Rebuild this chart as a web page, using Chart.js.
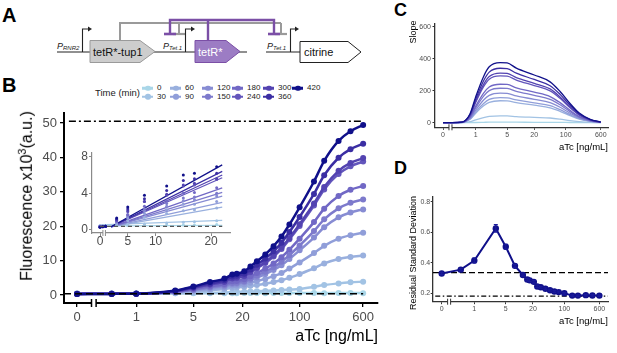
<!DOCTYPE html>
<html lang="en">
<head>
<meta charset="UTF-8">
<title>aTc dose response</title>
<script src="https://cdn.jsdelivr.net/npm/chart.js"></script>
<style>
  body { margin: 0; width: 617px; height: 353px; position: relative; overflow: hidden; background: #fff;
         font-family: 'Liberation Sans', Arial, sans-serif; color: #000; }
  canvas, svg, .t { position: absolute; }
  .t { line-height: 1; white-space: nowrap; }
  .panel { font-weight: bold; }
  .rot { transform: translate(-50%, -50%) rotate(-90deg); }
  .xt { transform: translateY(-50%); }
  .key { position: absolute; height: 2.5px; width: 11px; transform: translateY(-50%); }
  .key i { position: absolute; left: 3px; top: -1.5px; width: 5.5px; height: 5.5px; border-radius: 50%; background: inherit; }
  .lab { position: absolute; font-size: 8px; line-height: 1; transform: translateY(-50%); color: #222; }
</style>
</head>
<body>

<!-- panel A: construct diagram -->
<svg style="left:0;top:0" width="400" height="76">
  <line x1="57" y1="52" x2="247" y2="52" stroke="#222" stroke-width="1.2"/>
  <line x1="266" y1="52" x2="300" y2="52" stroke="#222" stroke-width="1.2"/>
  <polyline points="120,40 120,23 281,23" fill="none" stroke="#9a9a9a" stroke-width="2"/>
  <polyline points="179,23 179,34" fill="none" stroke="#9a9a9a" stroke-width="2"/>
  <line x1="173" y1="34" x2="185" y2="34" stroke="#9a9a9a" stroke-width="2.2"/>
  <polyline points="281,23 281,34" fill="none" stroke="#9a9a9a" stroke-width="2"/>
  <line x1="275" y1="34" x2="287" y2="34" stroke="#9a9a9a" stroke-width="2.2"/>
  <polyline points="170,34 170,20 274,20 274,34" fill="none" stroke="#7b4fa6" stroke-width="2.4"/>
  <line x1="208" y1="20" x2="208" y2="41" stroke="#7b4fa6" stroke-width="2.4"/>
  <line x1="164" y1="34" x2="176" y2="34" stroke="#7b4fa6" stroke-width="2.6"/>
  <line x1="268" y1="34" x2="280" y2="34" stroke="#7b4fa6" stroke-width="2.6"/>
  <path d="M82.5,52 V29 H89" fill="none" stroke="#222" stroke-width="1.1"/>
  <polygon points="88,26.5 92,29 88,31.5" fill="#222"/>
  <path d="M185.5,52 V29 H192" fill="none" stroke="#222" stroke-width="1.1"/>
  <polygon points="191,26.5 195,29 191,31.5" fill="#222"/>
  <path d="M290.5,52 V29 H296" fill="none" stroke="#222" stroke-width="1.1"/>
  <polygon points="295,26.5 299,29 295,31.5" fill="#222"/>
  <polygon points="90,40.5 140,40.5 155,51.5 140,62.5 90,62.5" fill="#cdcdcd" stroke="#9a9a9a" stroke-width="1"/>
  <polygon points="195,40.5 226,40.5 240,51.5 226,62.5 195,62.5" fill="#9c7cc4" stroke="#7b4fa6" stroke-width="1"/>
  <polygon points="300,41.5 348,41.5 361,52 348,62.5 300,62.5" fill="#fff" stroke="#222" stroke-width="1"/>
  <text x="93" y="55.5" font-size="11" fill="#111">tetR*-tup1</text>
  <text x="198" y="55.5" font-size="11" fill="#fff">tetR*</text>
  <text x="304" y="55.5" font-size="11" fill="#111">citrine</text>
  <text x="57" y="49" font-size="9" font-style="italic" fill="#222">P<tspan font-size="6" dy="1">RNR2</tspan></text>
  <text x="163" y="49" font-size="9" font-style="italic" fill="#222">P<tspan font-size="6" dy="1">Tet.1</tspan></text>
  <text x="267" y="49" font-size="9" font-style="italic" fill="#222">P<tspan font-size="6" dy="1">Tet.1</tspan></text>
</svg>

<div class="t panel" style="left:2px;top:4.5px;font-size:20px">A</div>
<div class="t panel" style="left:2px;top:74.5px;font-size:20px">B</div>
<div class="t panel" style="left:394px;top:0.5px;font-size:18px">C</div>
<div class="t panel" style="left:394px;top:158.7px;font-size:18px">D</div>

<div class="t xt" style="left:95px;top:93px;font-size:9.5px;color:#222">Time (min)</div>
<div id="legend"></div>

<canvas id="chartB" width="400" height="253" style="left:0;top:100px"></canvas>
<canvas id="chartInset" width="170" height="110" style="left:70px;top:140px"></canvas>
<canvas id="chartC" width="212" height="145" style="left:405px;top:10px"></canvas>
<canvas id="chartD" width="212" height="145" style="left:405px;top:185px"></canvas>

<div class="t rot" style="left:26px;top:196px;font-size:16px">Fluorescence x10<sup style="font-size:11px">3</sup>(a.u.)</div>
<div class="t xt" style="right:239px;top:336px;font-size:16px">aTc [ng/mL]</div>
<div class="t rot" style="left:413px;top:32px;font-size:9px">Slope</div>
<div class="t xt" style="right:9px;top:146.7px;font-size:9.5px">aTc [ng/mL]</div>
<div class="t rot" style="left:413px;top:253px;font-size:9px">Residual Standard Deviation</div>
<div class="t xt" style="right:9px;top:320.7px;font-size:9.5px">aTc [ng/mL]</div>

<script>
// ---- data ----
const timeLabels = ['0', '30', '60', '90', '120', '150', '180', '240', '300', '360', '420'];
const seriesColors = ['#a9d6e8', '#a2c3e4', '#99b0de', '#909ed9', '#878cd3', '#7d7acc',
                      '#7168c5', '#6356bc', '#5343b1', '#3b2ea3', '#10108a'];

// aTc concentrations (ng/mL)
const aTc = [0, 0.5, 1, 3, 5, 8, 12, 15, 17, 21, 25, 30, 38, 48, 60, 75, 100, 150, 200, 300, 420, 600];

// fluorescence x10^3 (a.u.), one array per time point
const fluor0   = [0.45, 0.45, 0.5, 0.5, 0.5, 0.55, 0.55, 0.55, 0.55, 0.6, 0.6, 0.6, 0.55, 0.6, 0.6, 0.6, 0.6, 0.6, 0.55, 0.6, 0.6, 0.55];
const fluor30  = [0.45, 0.45, 0.45, 0.5, 0.6, 0.65, 0.75, 0.85, 0.9, 1.0, 1.05, 1.1, 1.2, 1.3, 1.45, 1.6, 1.8, 2.4, 2.9, 3.4, 3.7, 3.9];
const fluor60  = [0.4, 0.4, 0.4, 0.7, 1.0, 1.4, 1.8, 2.1, 2.2, 2.4, 2.7, 2.9, 3.3, 3.8, 4.3, 5.0, 6.1, 7.8, 9.2, 10.5, 11.1, 11.5];
const fluor90  = [0.4, 0.4, 0.4, 0.8, 1.3, 1.8, 2.2, 2.8, 2.8, 3.1, 3.6, 4.1, 4.7, 5.5, 6.4, 7.7, 9.5, 12.2, 14.3, 16.4, 17.4, 18.1];
const fluor120 = [0.4, 0.4, 0.4, 0.9, 1.5, 2.1, 2.6, 3.2, 3.3, 3.7, 4.4, 5.1, 6.1, 7.3, 8.7, 10.5, 13.0, 16.7, 19.7, 22.6, 24.0, 24.9];
const fluor150 = [0.4, 0.4, 0.4, 0.9, 1.6, 2.3, 2.9, 3.5, 3.6, 4.0, 4.8, 5.7, 6.8, 8.1, 9.7, 11.6, 14.4, 18.6, 22.0, 25.2, 26.8, 27.8];
const fluor180 = [0.35, 0.38, 0.4, 1.0, 1.7, 2.6, 3.2, 4.0, 4.1, 4.6, 5.5, 6.4, 7.7, 9.2, 11.0, 13.2, 16.4, 21.2, 25.1, 28.8, 30.6, 31.7];
const fluor240 = [0.35, 0.38, 0.4, 1.1, 2.0, 3.1, 3.8, 4.8, 4.9, 5.5, 6.6, 7.8, 9.3, 11.2, 13.4, 16.2, 20.1, 26.0, 30.7, 35.2, 37.4, 38.8];
const fluor300 = [0.35, 0.38, 0.4, 1.1, 2.1, 3.1, 3.9, 4.9, 5.1, 5.6, 6.8, 8.0, 9.6, 11.5, 13.8, 16.6, 20.6, 26.6, 31.4, 36.1, 38.4, 39.8];
const fluor360 = [0.3, 0.35, 0.4, 1.2, 2.3, 3.4, 4.3, 5.4, 5.6, 6.2, 7.4, 8.8, 10.6, 12.7, 15.2, 18.3, 22.7, 29.4, 34.8, 39.9, 42.4, 44.0];
const fluor420 = [0.3, 0.35, 0.4, 1.3, 2.5, 3.8, 4.8, 6.0, 6.2, 6.9, 8.3, 9.8, 11.8, 14.2, 17.0, 20.5, 25.5, 33.0, 39.0, 44.8, 47.6, 49.4];
const fluorSeries = [fluor0, fluor30, fluor60, fluor90, fluor120, fluor150, fluor180, fluor240, fluor300, fluor360, fluor420];
const fluorMax = 50.5;
const fluorBase = 0.4;

// inset: linear fits over low aTc
const insetMaxAtc = 21;
const fitStartX = [0, 0, 2, 2, 2, 2, 2, 2, 2, 2, 2];
const fitStartY = [0.45, 0.55, 0.35, 0.35, 0.35, 0.35, 0.35, 0.35, 0.35, 0.35, 0.35];
const fitEndX = 22;
const fitEndY = [0.5, 1.05, 2.5, 3.0, 3.7, 4.1, 4.6, 5.7, 6.0, 6.4, 7.1];

// panel C: slope curves
const slopeAtc = [0, 0.3, 0.5, 0.75, 1, 1.5, 2, 3.5, 5, 8, 20, 45, 75, 125, 200, 350, 600];
const slope0   = [0, 0, 0, 1, 1, 2, 3, 3, 3, 3, 2, 2, 2, 1, 1, 0, 0];
const slope30  = [0, 0, 0, 6, 18, 32, 39, 42, 42, 38, 33, 29, 22, 13, 7, 2, 0];
const slope60  = [0, 0, 1, 21, 59, 105, 127, 137, 136, 125, 109, 93, 71, 44, 22, 8, 1];
const slope90  = [0, 0, 2, 23, 67, 120, 145, 156, 155, 142, 124, 106, 81, 50, 25, 9, 2];
const slope120 = [0, 0, 2, 28, 79, 142, 171, 184, 183, 167, 146, 125, 96, 59, 29, 10, 2];
const slope150 = [0, 0, 2, 32, 92, 166, 200, 215, 214, 196, 171, 146, 112, 69, 34, 12, 2];
const slope180 = [0, 0, 2, 36, 103, 185, 223, 240, 239, 218, 191, 163, 125, 77, 38, 13, 2];
const slope240 = [0, 0, 3, 44, 126, 225, 272, 292, 291, 266, 232, 199, 152, 93, 47, 16, 3];
const slope300 = [0, 0, 3, 47, 133, 239, 288, 310, 308, 282, 246, 211, 161, 99, 50, 17, 3];
const slope360 = [0, 0, 3, 51, 146, 262, 316, 340, 338, 309, 270, 231, 177, 109, 54, 19, 3];
const slope420 = [0, 0, 4, 56, 161, 289, 349, 375, 373, 341, 298, 255, 195, 120, 60, 21, 4];
const slopeSeries = [slope0, slope30, slope60, slope90, slope120, slope150, slope180, slope240, slope300, slope360, slope420];

// panel D: residual standard deviation
const rsd    = [0.33, 0.355, 0.415, 0.625, 0.505, 0.38, 0.32, 0.29, 0.285, 0.275, 0.245, 0.24, 0.23, 0.22, 0.212, 0.208, 0.2, 0.185, 0.185, 0.188, 0.186, 0.185];
const rsdErr = [0.008, 0.008, 0.015, 0.025, 0.015, 0.01, 0.008, 0.008, 0.008, 0.008, 0.008, 0.006, 0.006, 0.006, 0.006, 0.006, 0.006, 0.005, 0.005, 0.005, 0.005, 0.005];
const rsdDashed = 0.335;
const rsdDotDash = 0.182;

// tick labels
const xTickAtc = [0, 1, 5, 20, 100, 600];
const xTickLabels = ['0', '1', '5', '20', '100', '600'];
const fluorTicks = [0, 10, 20, 30, 40, 50];
const insetXTicks = [0, 5, 10, 20];
const insetYTicks = [0, 4, 8];
const slopeTicks = [0, 200, 400, 600];
const rsdTicks = [0.2, 0.4, 0.6, 0.8];

// ---- helpers ----
const ZERO_POS = -0.725;   // where aTc = 0 sits on the log axis
const pos = c => c === 0 ? ZERO_POS : Math.log10(c);

Chart.defaults.font.family = "'Liberation Sans', Arial, sans-serif";
Chart.defaults.animation = false;
Chart.defaults.plugins.legend.display = false;
Chart.defaults.plugins.tooltip.enabled = false;

function axis(o) {
    return {
        type: 'linear', min: o.min, max: o.max,
        afterBuildTicks: s => { s.ticks = o.ticks.map(v => ({ value: v })); },
        afterFit: s => {
            if (o.width != null) s.width = o.width;
            if (o.height != null) s.height = o.height;
        },
        border: { display: true, color: o.color, width: o.lw },
        grid: { display: true, drawOnChartArea: false, drawTicks: true, tickLength: o.tl,
                color: o.color, lineWidth: o.tw || 1 },
        ticks: { font: { size: o.font, lineHeight: 1 }, color: '#4d4d4d', padding: o.pad,
                 maxRotation: 0, autoSkip: false, callback: o.label }
    };
}

// gap in the x axis between 0 and the log part
const axisBreak = {
    id: 'axisBreak',
    afterDraw(chart, args, opts) {
        const { ctx, chartArea } = chart;
        const xc = chart.scales.x.getPixelForValue(opts.at);
        const y = chartArea.bottom;
        const x1 = xc - opts.gap / 2, x2 = xc + opts.gap / 2;
        ctx.save();
        ctx.fillStyle = '#fff';
        ctx.fillRect(x1, y - 2, x2 - x1, 4);
        ctx.strokeStyle = opts.color;
        ctx.lineWidth = opts.width;
        [x1, x2].forEach(x => {
            ctx.beginPath();
            ctx.moveTo(x, y - opts.h);
            ctx.lineTo(x, y + opts.h);
            ctx.stroke();
        });
        ctx.restore();
    }
};

const errorBars = {
    id: 'errorBars',
    afterDatasetsDraw(chart) {
        const { ctx, scales: { x, y } } = chart;
        ctx.save();
        ctx.strokeStyle = '#1a1a9a';
        ctx.lineWidth = 1.2;
        aTc.forEach((c, i) => {
            const px = x.getPixelForValue(pos(c));
            const y1 = y.getPixelForValue(rsd[i] - rsdErr[i]);
            const y2 = y.getPixelForValue(rsd[i] + rsdErr[i]);
            ctx.beginPath();
            ctx.moveTo(px, y1); ctx.lineTo(px, y2);
            ctx.moveTo(px - 2, y1); ctx.lineTo(px + 2, y1);
            ctx.moveTo(px - 2, y2); ctx.lineTo(px + 2, y2);
            ctx.stroke();
        });
        ctx.restore();
    }
};

// ---- legend (two rows, filled column by column) ----
const legendLabelX = [157, 185, 217, 247, 278, 307];
const legendRowY = [88.3, 96.7];
const legend = document.getElementById('legend');
timeLabels.forEach((t, i) => {
    const col = Math.floor(i / 2), row = i % 2;
    const k = document.createElement('div');
    k.className = 'key';
    k.style.left = (legendLabelX[col] - 15) + 'px';
    k.style.top = legendRowY[row] + 'px';
    k.style.background = seriesColors[i];
    k.appendChild(document.createElement('i'));
    legend.appendChild(k);
    const l = document.createElement('div');
    l.className = 'lab';
    l.style.left = legendLabelX[col] + 'px';
    l.style.top = legendRowY[row] + 'px';
    l.textContent = t;
    legend.appendChild(l);
});

// ---- panel B ----
const B_X = [-0.885, 2.96];
const bDatasets = fluorSeries.map((vals, i) => ({
    data: aTc.map((c, j) => ({ x: pos(c), y: vals[j] })),
    showLine: true, borderColor: seriesColors[i], backgroundColor: seriesColors[i],
    borderWidth: 2.5, pointRadius: 3, pointBorderWidth: 0, pointHoverRadius: 0,
    cubicInterpolationMode: 'monotone', order: 20 - i
}));
bDatasets.push({
    data: [{ x: B_X[0], y: fluorBase }, { x: pos(600), y: fluorBase }],
    showLine: true, borderColor: '#000', borderWidth: 1.6, borderDash: [7, 4], pointRadius: 0, order: 0
});
bDatasets.push({
    data: [{ x: B_X[0] + 0.06, y: fluorMax }, { x: pos(600), y: fluorMax }],
    showLine: true, borderColor: '#000', borderWidth: 1.6, borderDash: [7, 3, 2, 3], pointRadius: 0, order: 0
});

new Chart(document.getElementById('chartB'), {
    type: 'scatter',
    data: { datasets: bDatasets },
    options: {
        responsive: false,
        layout: { padding: { left: 0, top: 13, right: 22, bottom: 0 } },
        scales: {
            x: axis({ min: B_X[0], max: B_X[1], ticks: xTickAtc.map(pos), label: (v, i) => xTickLabels[i],
                      height: 50, color: '#000', lw: 2, tl: 4, tw: 1.3, font: 13, pad: 4 }),
            y: axis({ min: -2.3, max: 52.9, ticks: fluorTicks, label: v => v,
                      width: 64, color: '#000', lw: 2, tl: 4, tw: 1.3, font: 13, pad: 3 })
        },
        plugins: { axisBreak: { at: -0.52, gap: 4.6, h: 4, color: '#000', width: 1.5 } }
    },
    plugins: [axisBreak]
});

// ---- panel B inset ----
const insetDatasets = [];
fluorSeries.forEach((vals, i) => {
    insetDatasets.push({
        data: [{ x: fitStartX[i], y: fitStartY[i] }, { x: fitEndX, y: fitEndY[i] }],
        showLine: true, borderColor: seriesColors[i], borderWidth: 1.3, pointRadius: 0, order: 40 - i
    });
    insetDatasets.push({
        data: aTc.filter(c => c <= insetMaxAtc).map((c, j) => ({ x: c, y: vals[j] })),
        showLine: false, backgroundColor: seriesColors[i], pointRadius: 1.5, pointBorderWidth: 0, order: 20 - i
    });
});
insetDatasets.push({
    data: [{ x: 0, y: fluorBase }, { x: fitEndX, y: fluorBase }],
    showLine: true, borderColor: '#555', borderWidth: 1.3, borderDash: [4, 3], pointRadius: 0, order: 0
});

new Chart(document.getElementById('chartInset'), {
    type: 'scatter',
    data: { datasets: insetDatasets },
    options: {
        responsive: false,
        layout: { padding: { left: 0, top: 13, right: 10, bottom: 0 } },
        scales: {
            x: axis({ min: -1.44, max: 23.4, ticks: insetXTicks, label: v => v,
                      height: 17, color: '#8a8a8a', lw: 1.2, tl: 3, font: 12, pad: 0 }),
            y: axis({ min: -0.33, max: 8.4, ticks: insetYTicks, label: v => v,
                      width: 22, color: '#8a8a8a', lw: 1.2, tl: 3, font: 12, pad: 1 })
        },
        plugins: { axisBreak: { at: 0.75, gap: 2.5, h: 3, color: '#8a8a8a', width: 1 } }
    },
    plugins: [axisBreak]
});

// ---- panel C ----
new Chart(document.getElementById('chartC'), {
    type: 'scatter',
    data: {
        datasets: slopeSeries.map((vals, i) => ({
            data: slopeAtc.map((c, j) => ({ x: pos(c), y: vals[j] })),
            showLine: true, borderColor: seriesColors[i], borderWidth: 1.3, pointRadius: 0,
            cubicInterpolationMode: 'monotone', order: 20 - i
        }))
    },
    options: {
        responsive: false,
        layout: { padding: { left: 0, top: 13.3, right: 9, bottom: 0 } },
        scales: {
            x: axis({ min: -0.904, max: 2.94, ticks: xTickAtc.map(pos), label: (v, i) => xTickLabels[i],
                      height: 27.7, color: '#333', lw: 1.3, tl: 2.5, font: 7, pad: 1.7 }),
            y: axis({ min: -29, max: 621, ticks: slopeTicks, label: v => v,
                      width: 30, color: '#333', lw: 1.3, tl: 2.5, font: 7, pad: 1.5 })
        },
        plugins: { axisBreak: { at: -0.56, gap: 3, h: 3, color: '#333', width: 1 } }
    },
    plugins: [axisBreak]
});

// ---- panel D ----
const D_X = [-0.918, 2.97];
new Chart(document.getElementById('chartD'), {
    type: 'scatter',
    data: {
        datasets: [
            { data: aTc.map((c, j) => ({ x: pos(c), y: rsd[j] })), showLine: true,
              borderColor: '#10108a', backgroundColor: '#10108a', borderWidth: 2, pointRadius: 3.2,
              pointBorderWidth: 0, order: 1 },
            { data: [{ x: D_X[0], y: rsdDashed }, { x: D_X[1], y: rsdDashed }], showLine: true,
              borderColor: '#000', borderWidth: 1.2, borderDash: [6, 3], pointRadius: 0, order: 2 },
            { data: [{ x: D_X[0] + 0.05, y: rsdDotDash }, { x: D_X[1], y: rsdDotDash }], showLine: true,
              borderColor: '#000', borderWidth: 1.2, borderDash: [5, 2.5, 1.5, 2.5], pointRadius: 0, order: 2 }
        ]
    },
    options: {
        responsive: false,
        layout: { padding: { left: 0, top: 11.7, right: 9, bottom: 0 } },
        scales: {
            x: axis({ min: D_X[0], max: D_X[1], ticks: xTickAtc.map(pos), label: (v, i) => xTickLabels[i],
                      height: 28.3, color: '#333', lw: 1.3, tl: 2.5, font: 7, pad: 1.6 }),
            y: axis({ min: 0.145, max: 0.833, ticks: rsdTicks, label: v => v.toFixed(1),
                      width: 28, color: '#333', lw: 1.3, tl: 2.3, font: 7, pad: 0.5 })
        },
        plugins: { axisBreak: { at: -0.56, gap: 3, h: 3, color: '#333', width: 1 } }
    },
    plugins: [axisBreak, errorBars]
});
</script>
</body>
</html>
